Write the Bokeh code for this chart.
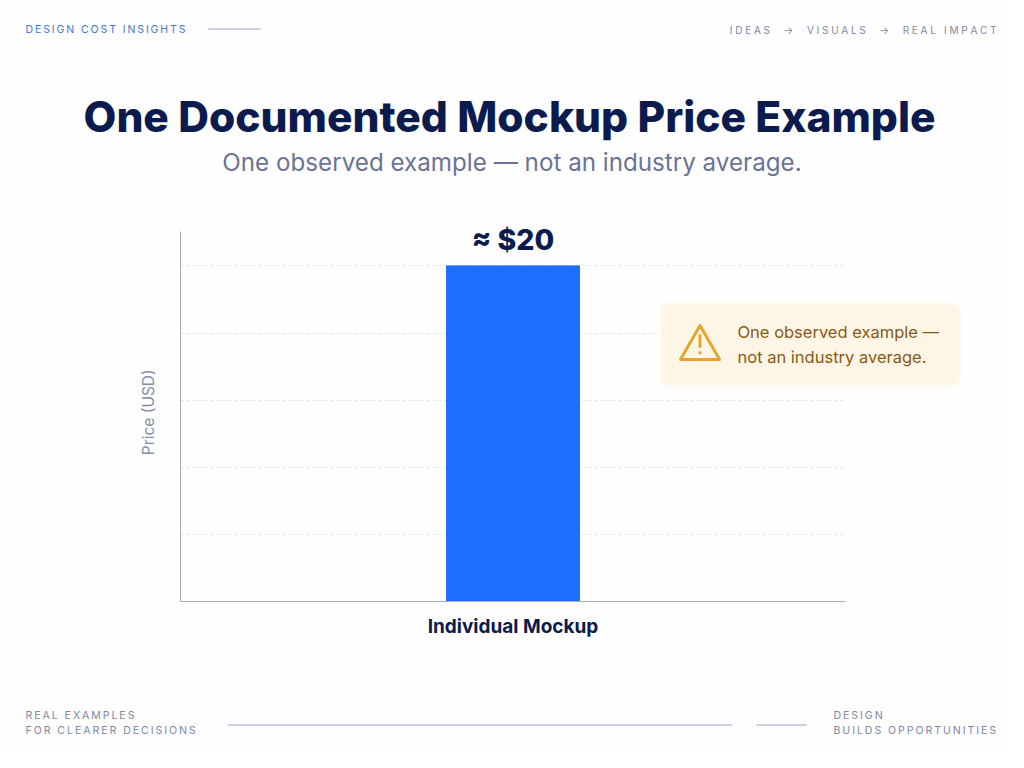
from bokeh.core.properties import value
from bokeh.embed import file_html
from bokeh.models import ColumnDataSource, FactorRange, FixedTicker, Label, PolyAnnotation, Range1d
from bokeh.plotting import figure
from bokeh.resources import INLINE

categories = ["Individual Mockup"]
prices = [20]
price_labels = ["≈ $20"]
price_ticks = [0, 4, 8, 12, 16, 20]

NAVY = "#0b1b4d"
BG = "#fefefe"
MUTED = "#7f88a4"
RULE = "#95a1c2"
AMBER = "#e8a52a"
BROWN = "#8a5a14"
FONT = "Inter"
HEAVY = "Inter ExtraBold"
THIN = "\u2009"
HAIR = "\u200a"


def tracked(s, sep=THIN):
    # bokeh has no letter spacing, narrow spaces stand in for it
    return sep.join(s)


source = ColumnDataSource(data=dict(category=categories, price=prices, label=price_labels))

p = figure(width=1008, height=752, output_backend="svg", toolbar_location=None,
           x_range=FactorRange(factors=categories, range_padding=0), y_range=Range1d(0, 22.05),
           min_border_left=180, min_border_right=163, min_border_top=231, min_border_bottom=151,
           background_fill_color=BG, border_fill_color=BG)
p.outline_line_color = None

p.xgrid.visible = False
p.ygrid.ticker = FixedTicker(ticks=price_ticks)
p.ygrid.grid_line_color = "#e3e4e9"
p.ygrid.grid_line_dash = "3 3"

p.yaxis.ticker = FixedTicker(ticks=price_ticks)
p.yaxis.axis_label = THIN * 3 + "Price (USD)"
p.yaxis.axis_label_text_font = FONT
p.yaxis.axis_label_text_font_style = "normal"
p.yaxis.axis_label_text_font_size = "15.5px"
p.yaxis.axis_label_text_color = "#858ea9"
p.yaxis.axis_label_standoff = 17
p.yaxis.major_label_text_color = None
p.yaxis.major_label_text_font_size = "1px"
p.xaxis.major_label_text_font = FONT
p.xaxis.major_label_text_font_style = "bold"
p.xaxis.major_label_text_font_size = "19px"
p.xaxis.major_label_text_color = NAVY
p.xaxis.major_label_standoff = 7
for ax in (p.xaxis, p.yaxis):
    ax.axis_line_color = "#a4adc6"
    ax.major_tick_line_color = None
    ax.minor_tick_line_color = None

p.vbar(x="category", top="price", width=0.2, source=source, color="#1f6fff")
p.text(x="category", y="price", text="label", source=source, text_align="center", text_baseline="bottom",
       y_offset=-9, text_font=value(HEAVY), text_font_size="28.5px", text_color=NAVY, level="overlay")


def put(x, y, s, size, color, align="left", font=FONT, side="above"):
    # side panel so the frame does not clip it, each label takes up panel height though
    p.add_layout(Label(x=x, y=y, x_units="canvas", y_units="canvas", text=s, text_font=font,
                       text_font_size=f"{size}px", text_color=color,
                       text_align=align, text_baseline="middle"), side)


def box(l, r, t, b, color, radius=0, edge=None, side="above"):
    # box annotations get clipped to the frame, a label background does not
    p.add_layout(Label(x=(l + r) / 2, y=(t + b) / 2, x_units="canvas", y_units="canvas", text=" ",
                       text_font_size="1px", text_align="center", text_baseline="middle",
                       padding=dict(x=(r - l) // 2, y=(b - t) // 2), background_fill_color=color,
                       background_fill_alpha=1, border_radius=radius, border_line_color=edge,
                       border_line_width=3), side)


def poly(xs, ys, color, width=1.0):
    p.add_layout(PolyAnnotation(xs=xs, ys=ys, xs_units="canvas", ys_units="canvas", fill_color=None,
                                line_color=color, line_alpha=1, line_width=width, line_join="round"), "above")


# header
put(25, 29, tracked("DESIGN COST INSIGHTS"), 10.5, "#3f78cf", side="below")
box(208, 260, 28, 29, RULE, side="below")
arrow_gap = THIN * 3
route = tracked("IDEAS → VISUALS → REAL IMPACT", THIN + HAIR)
route = route.replace("→", arrow_gap + "→" + arrow_gap)
put(996, 29, route, 10, MUTED, align="right", side="below")
put(509, 116, "One Documented Mockup Price Example", 42.5, NAVY, "center", HEAVY)
put(511.5, 162, "One observed example — not an industry average.", 24.2, "#6b7396", "center")

# callout
box(660, 960, 303, 385, "#fdf5e6", 9, edge="#fefaf2")
poly([699.5, 680, 719], [325, 359, 359], AMBER, 3)
poly([699.5, 699.5, 699.5], [335, 346, 335], AMBER, 3)
poly([699.5, 699.5, 699.5], [352, 352.5, 352], AMBER, 3)
put(737, 331.5, "One observed example —", 16.5, BROWN)
put(737, 356.5, "not an industry average.", 16.5, BROWN)

# footer
put(25, 715, tracked("REAL EXAMPLES"), 10.6, MUTED, side="below")
put(25, 730, tracked("FOR CLEARER DECISIONS"), 10.6, MUTED, side="below")
box(227, 732, 724, 725, RULE, side="below")
box(756, 806, 724, 725, RULE, side="below")
put(833, 715, tracked("DESIGN"), 10.6, MUTED, side="below")
put(833, 730, tracked("BUILDS OPPORTUNITIES"), 10.6, MUTED, side="below")

open("out.html", "w").write(file_html(p, INLINE))
